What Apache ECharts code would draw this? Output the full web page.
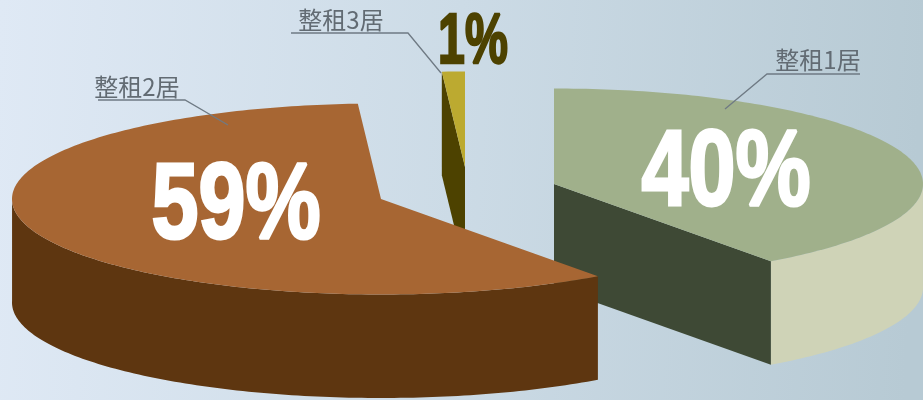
<!DOCTYPE html>
<html>
<head>
<meta charset="utf-8">
<style>html,body{margin:0;padding:0;overflow:hidden}#chart{width:923px;height:400px}</style>
<script src="https://cdn.jsdelivr.net/npm/echarts@6/dist/echarts.min.js"></script>
</head>
<body>
<div id="chart"></div>
<script>
// Rental mix by flat size
const categories = ['整租1居', '整租2居', '整租3居'];
const shares = [40, 59, 1];

// Exploded 3D pie layout
const radiusX = 369, radiusY = 95.5, thickness = 103.5;
const sliceCentres = [[554, 184], [381, 199], [465, 167]];
const stacking = [1, 2, 0];
const topColors = ['#a0b08b', '#a76633', '#bcaa30'];
const cutColors = ['#3e4935', '#5e3610', '#4d4200'];
const rimColors = ['#cfd3b7', '#5e3610', '#4d4200'];
const valueBoxes = [
  { x: 726, y: 175, size: 107, sx: 0.79, stroke: 3, fill: '#ffffff' },
  { x: 236, y: 208, size: 107, sx: 0.79, stroke: 3, fill: '#ffffff' },
  { x: 473, y: 43, size: 71, sx: 0.68, stroke: 2.5, fill: '#4d4200' }
];
const nameBoxes = [
  { x: 818, y: 60, leader: [[860, 74], [767, 74], [725, 109]] },
  { x: 137, y: 87, leader: [[98, 100], [185, 100], [228, 125]] },
  { x: 341, y: 20, leader: [[291, 33], [408, 33], [441, 73]] }
];

const toDegrees = v => echarts.number.linearMap(v, [0, 100], [0, 360]);

function sweepOf(index) {
  let before = 0;
  for (let i = 0; i < index; i++) before += shares[i];
  return [90 - toDegrees(before), 90 - toDegrees(before + shares[index])];
}

function onRim(c, deg) {
  const t = deg * Math.PI / 180;
  return [c[0] + radiusX * Math.cos(t), c[1] - radiusY * Math.sin(t)];
}

function renderSlice(params, api) {
  const i = params.dataIndex;
  const value = api.value(1);
  const c = sliceCentres[i];
  const [from, to] = sweepOf(i);
  const base = stacking[i] * 10;
  const step = 1;
  const children = [];

  // side wall along the rim, only the part that faces the viewer
  const rimUpper = [];
  for (let d = from; d >= to; d -= step) {
    if (Math.sin(d * Math.PI / 180) < 0.02) rimUpper.push(onRim(c, d));
  }
  if (rimUpper.length > 1) {
    const rimLower = rimUpper.map(p => [p[0], p[1] + thickness]).reverse();
    children.push({
      type: 'polygon', z2: base + 1,
      shape: { points: rimUpper.concat(rimLower) },
      style: { fill: rimColors[i] }
    });
  }

  // flat cut faces on either side of the slice
  const faces = [
    { deg: from, down: Math.cos(from * Math.PI / 180) < 0 },
    { deg: to, down: Math.cos(to * Math.PI / 180) > 0 }
  ];
  faces.forEach(f => {
    if (!f.down) return;
    const p = onRim(c, f.deg);
    children.push({
      type: 'polygon', z2: base + 2,
      shape: { points: [c, p, [p[0], p[1] + thickness], [c[0], c[1] + thickness]] },
      style: { fill: cutColors[i] }
    });
  });

  // top face
  const top = [c];
  for (let d = from; d >= to; d -= step) top.push(onRim(c, d));
  top.push(onRim(c, to));
  children.push({
    type: 'polygon', z2: base + 3,
    shape: { points: top },
    style: { fill: topColors[i] }
  });

  // percentage
  const box = valueBoxes[i];
  children.push({
    type: 'text', z2: 100, x: box.x, y: box.y, scaleX: box.sx, scaleY: 1,
    style: {
      text: value + '%',
      font: 'bold ' + box.size + 'px "Liberation Sans Narrow", "Liberation Sans", sans-serif',
      fill: box.fill, stroke: box.fill, lineWidth: box.stroke,
      align: 'center', verticalAlign: 'middle'
    }
  });

  // leader line and name
  const tag = nameBoxes[i];
  children.push({
    type: 'polyline', z2: 101,
    shape: { points: tag.leader },
    style: { fill: null, stroke: '#6f7a84', lineWidth: 1.3 }
  });
  children.push({
    type: 'text', z2: 102, x: tag.x, y: tag.y,
    style: {
      text: categories[i],
      font: '24px "Noto Sans CJK SC", sans-serif',
      fill: '#626b73', align: 'center', verticalAlign: 'middle'
    }
  });

  return { type: 'group', children };
}

const chart = echarts.init(document.getElementById('chart'));
chart.setOption({
  animation: false,
  backgroundColor: {
    type: 'linear', x: 0, y: 0, x2: 1, y2: 0.12,
    colorStops: [
      { offset: 0, color: '#dfe9f5' },
      { offset: 0.5, color: '#ccdbe6' },
      { offset: 1, color: '#b7cad4' }
    ]
  },
  series: [{
    type: 'custom',
    coordinateSystem: 'none',
    silent: true,
    renderItem: renderSlice,
    data: categories.map((name, i) => [i, shares[i]])
  }]
});
</script>
</body>
</html>
